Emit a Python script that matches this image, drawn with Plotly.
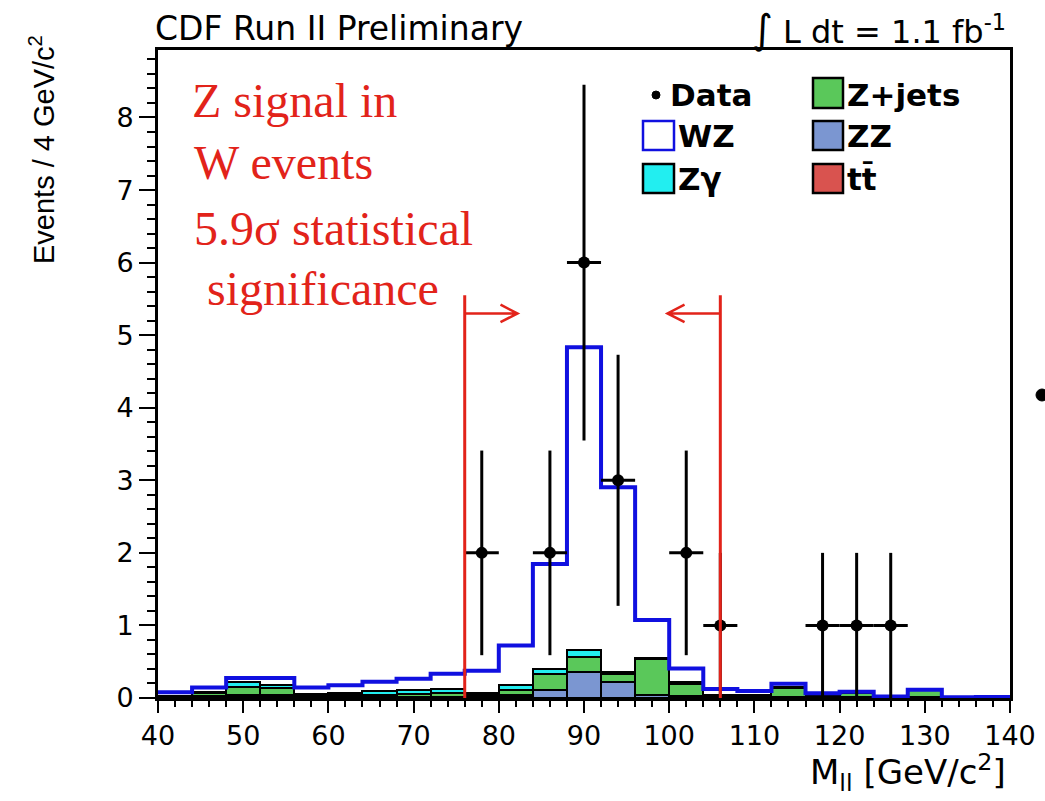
import plotly.graph_objects as go

# ---------------- data ----------------
bin_edges = [40, 44, 48, 52, 56, 60, 64, 68, 72, 76, 80, 84, 88, 92, 96, 100,
             104, 108, 112, 116, 120, 124, 128, 132, 136, 140]
bin_centers = [e + 2 for e in bin_edges[:-1]]

zz = [0.01, 0.02, 0.03, 0.03, 0.01, 0.01, 0.01, 0.01, 0.01, 0.02, 0.03, 0.11, 0.36,
      0.22, 0.04, 0.02, 0.01, 0.01, 0.01, 0.01, 0.01, 0.01, 0.01, 0.005, 0.005]
ttbar = [0.0, 0.005, 0.005, 0.005, 0.005, 0.005, 0.005, 0.005, 0.005, 0.005, 0.005, 0.005,
         0.005, 0.005, 0.005, 0.005, 0.005, 0.005, 0.005, 0.005, 0.005, 0.0, 0.0, 0.0, 0.0]
zjets = [0.01, 0.04, 0.12, 0.10, 0.02, 0.02, 0.03, 0.04, 0.05, 0.02, 0.08, 0.21, 0.20,
         0.10, 0.49, 0.17, 0.01, 0.01, 0.12, 0.01, 0.05, 0.0, 0.10, 0.0, 0.0]
zgamma = [0.01, 0.02, 0.07, 0.04, 0.02, 0.04, 0.05, 0.05, 0.06, 0.02, 0.06, 0.08, 0.09,
          0.03, 0.02, 0.02, 0.01, 0.01, 0.01, 0.0, 0.0, 0.0, 0.0, 0.0, 0.0]
wz = [0.05, 0.06, 0.05, 0.10, 0.09, 0.10, 0.13, 0.16, 0.21, 0.31, 0.55, 1.44, 4.18,
      2.55, 0.52, 0.19, 0.09, 0.06, 0.05, 0.04, 0.02, 0.01, 0.005, 0.005, 0.01]

data_x = [78, 86, 90, 94, 102, 106, 118, 122, 126]
data_y = [2, 2, 6, 3, 2, 1, 1, 1, 1]
data_err = [1.41, 1.41, 2.45, 1.73, 1.41, 1.0, 1.0, 1.0, 1.0]

cut_low, cut_high = 76, 106
cut_top = 5.55
arrow_y = 5.3
arrow_len = 6.2

x_ticks = [40, 50, 60, 70, 80, 90, 100, 110, 120, 130, 140]
y_ticks = [0, 1, 2, 3, 4, 5, 6, 7, 8]

# ---------------- style ----------------
C_ZZ = "#7b96d1"
C_TT = "#d9534f"
C_ZJ = "#5ac85a"
C_ZG = "#22eef0"
C_WZ = "#1010e0"
C_RED = "#e2231a"
SANS = "DejaVu Sans, Liberation Sans, Arial, sans-serif"
SERIF = "Liberation Serif, Times New Roman, serif"

L, R, T, B = 158, 35, 50, 103
W, H = 1045, 801
PW, PH = W - L - R, H - T - B


def px(xp):
    return (xp - L) / PW


def py(yp):
    return (H - B - yp) / PH


fig = go.Figure()

for vals, col in [(zz, C_ZZ), (ttbar, C_TT), (zjets, C_ZJ), (zgamma, C_ZG)]:
    fig.add_trace(go.Bar(x=bin_centers, y=vals, width=4, marker=dict(color=col, line=dict(color="black", width=2.5)),
                         showlegend=False))

total = [a + b + c + d + e for a, b, c, d, e in zip(zz, ttbar, zjets, zgamma, wz)]
fig.add_trace(go.Scatter(x=bin_edges, y=total + [total[-1]], mode="lines", line=dict(color=C_WZ, width=4, shape="hv"),
                         showlegend=False))

fig.add_trace(go.Scatter(x=data_x, y=data_y, mode="markers",
                         marker=dict(color="black", size=12),
                         error_y=dict(type="data", array=data_err, color="black", thickness=3, width=0),
                         error_x=dict(type="constant", value=2, color="black", thickness=3, width=0),
                         showlegend=False))

shapes = []
for xc in (cut_low, cut_high):
    shapes.append(dict(type="line", xref="x", yref="y", x0=xc, x1=xc, y0=0, y1=cut_top,
                       line=dict(color=C_RED, width=3)))
# arrows
xa = cut_low + arrow_len
shapes.append(dict(type="path", xref="x", yref="y",
                   path=f"M {cut_low},{arrow_y} L {xa},{arrow_y} M {xa-2},{arrow_y+0.12} L {xa},{arrow_y} L {xa-2},{arrow_y-0.12}",
                   line=dict(color=C_RED, width=2.5)))
xb = cut_high - arrow_len
shapes.append(dict(type="path", xref="x", yref="y",
                   path=f"M {cut_high},{arrow_y} L {xb},{arrow_y} M {xb+2},{arrow_y+0.12} L {xb},{arrow_y} L {xb+2},{arrow_y-0.12}",
                   line=dict(color=C_RED, width=2.5)))

# legend (manual)
def swatch(x0, y0, x1, y1, fill, line_col="black"):
    shapes.append(dict(type="rect", xref="paper", yref="paper", x0=px(x0), x1=px(x1), y0=py(y1), y1=py(y0),
                       fillcolor=fill, line=dict(color=line_col, width=2.5)))

swatch(813, 78, 843, 108, C_ZJ)
swatch(643, 121, 674, 150, "white", C_WZ)
swatch(813, 121, 843, 150, C_ZZ)
swatch(643, 164, 674, 193, C_ZG)
swatch(813, 164, 843, 193, C_TT)
shapes.append(dict(type="circle", xref="paper", yref="paper", x0=px(652), x1=px(660), y0=py(99), y1=py(91),
                   fillcolor="black", line=dict(color="black", width=1)))
# stray dot at right edge
shapes.append(dict(type="circle", xref="paper", yref="paper", x0=px(1036), x1=px(1048), y0=py(401), y1=py(389),
                   fillcolor="black", line=dict(color="black", width=1)))

ann = []
def text(t, x, y, size, family=SANS, color="black", xanchor="left", angle=0):
    ann.append(dict(text=t, xref="paper", yref="paper", x=px(x), y=py(y), xanchor=xanchor, yanchor="middle",
                    showarrow=False, textangle=angle, font=dict(family=family, size=size, color=color)))

text("<b>Data</b>", 668, 95, 31)
text("<b>Z+jets</b>", 845, 95, 31)
text("<b>WZ</b>", 676, 136, 31)
text("<b>ZZ</b>", 845, 136, 31)
text("<b>Zγ</b>", 676, 179, 31)
text("<b>tt\u0304</b>", 845, 179, 31)

text("Z signal in", 190, 100, 48, SERIF, C_RED)
text("W events", 192, 162, 48, SERIF, C_RED)
text("5.9σ statistical", 192, 228, 48, SERIF, C_RED)
text("significance", 205, 288, 48, SERIF, C_RED)

text("CDF Run II Preliminary", 153, 29, 33)
text("<span style='font-size:40px'>∫</span> L dt = 1.1 fb<sup>-1</sup>", 1008, 29, 32, xanchor="right")
text("M<sub>ll</sub> [GeV/c<sup>2</sup>]", 1008, 772, 34, xanchor="right")
text("Events / 4 GeV/c<sup>2</sup>", 42, 150, 29,
     family="Liberation Sans, Arial, sans-serif", angle=-90, xanchor="center")

fig.update_layout(
    width=W, height=H, autosize=False,
    margin=dict(l=L, r=R, t=T, b=B, pad=0, autoexpand=False),
    paper_bgcolor="white", plot_bgcolor="white",
    barmode="stack", bargap=0,
    shapes=shapes, annotations=ann,
    showlegend=False,
)
fig.update_xaxes(range=[40, 140], tickvals=x_ticks, ticks="outside", ticklen=12, tickwidth=2, tickcolor="black",
                 minor=dict(dtick=2, tick0=40, ticks="outside", ticklen=6, tickwidth=2, tickcolor="black"),
                 showline=True, linecolor="black", linewidth=3, mirror=True, showgrid=False, zeroline=False,
                 automargin=False, tickfont=dict(family=SANS, size=27, color="black"))
fig.update_yaxes(range=[0, 8.93], tickvals=y_ticks, ticks="outside", ticklen=16, tickwidth=2, tickcolor="black",
                 minor=dict(dtick=0.2, tick0=0, ticks="outside", ticklen=8, tickwidth=2, tickcolor="black"),
                 showline=True, linecolor="black", linewidth=3, mirror=True, showgrid=False, zeroline=False,
                 automargin=False, tickfont=dict(family=SANS, size=27, color="black"))

fig.write_html("out.html")
